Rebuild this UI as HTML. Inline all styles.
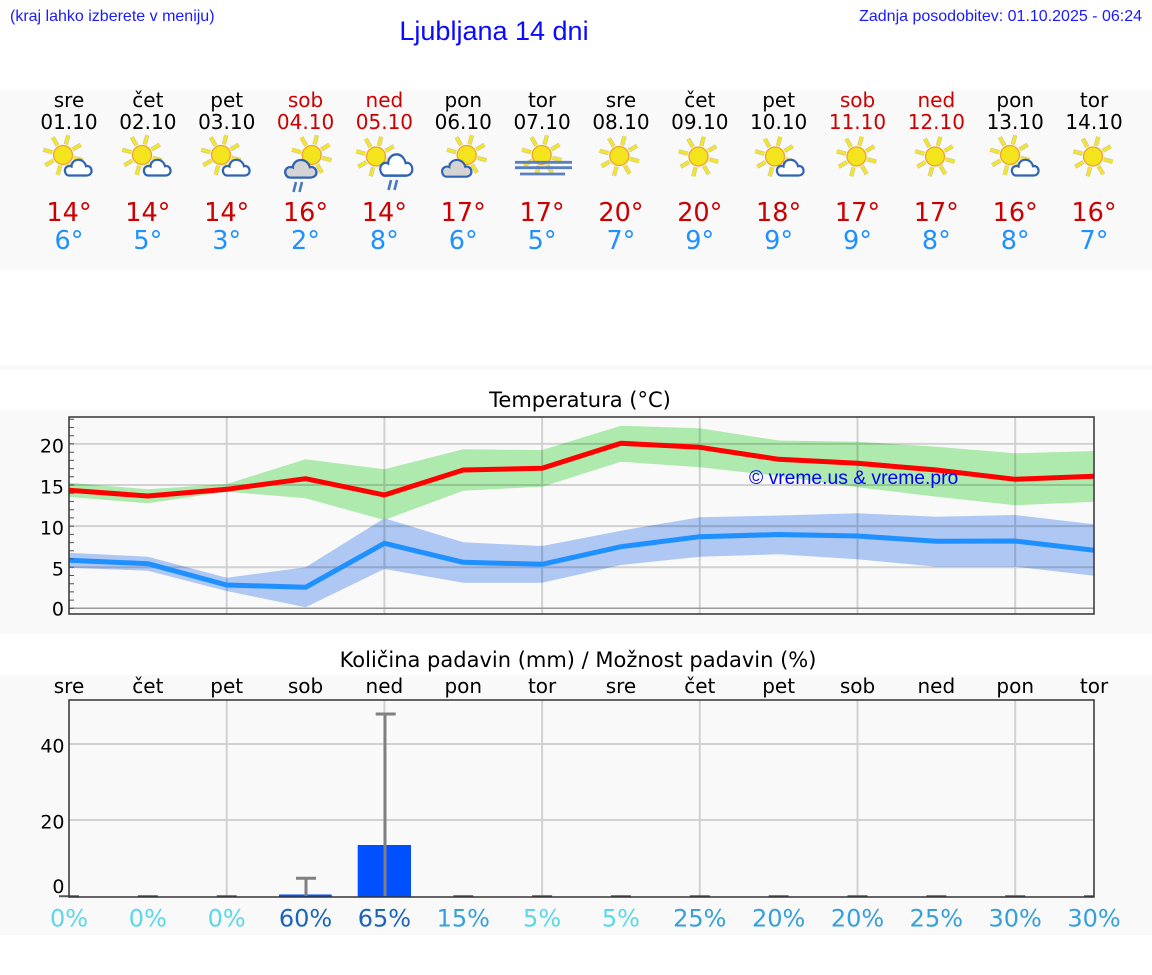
<!DOCTYPE html>
<html><head><meta charset="utf-8">
<style>
html,body{margin:0;padding:0;background:#fff;}
svg{display:block;}
.d{font-family:"DejaVu Sans",sans-serif;}
.l{font-family:"Liberation Sans",Arial,sans-serif;}
</style></head>
<body>
<svg width="1152" height="975" viewBox="0 0 1152 975" xmlns="http://www.w3.org/2000/svg">
<defs>
  <g id="sun">
    <path d="M10.6,2.8L19.8,5.3M5.5,9.5L10.3,17.8M-2.8,10.6L-5.3,19.8M-9.5,5.5L-17.8,10.3M-10.6,-2.8L-19.8,-5.3M-5.5,-9.5L-10.3,-17.8M2.8,-10.6L5.3,-19.8M9.5,-5.5L17.8,-10.3" stroke="#cfc8a8" stroke-width="4.4"/>
    <path d="M10.6,2.8L19.8,5.3M5.5,9.5L10.3,17.8M-2.8,10.6L-5.3,19.8M-9.5,5.5L-17.8,10.3M-10.6,-2.8L-19.8,-5.3M-5.5,-9.5L-10.3,-17.8M2.8,-10.6L5.3,-19.8M9.5,-5.5L17.8,-10.3" stroke="#f2e52a" stroke-width="3"/>
    <circle r="9.5" fill="#f3e41e" stroke="#f0a030" stroke-width="1.3"/>
  </g>
  <path id="cloud" d="M6,17.5 L23,17.5 C27,17.5 29,15 28.5,12 C28,9 25.5,7.5 23,8.2 C22,4 18.5,1.5 15,1.8 C11,2 8.5,5 8.5,8.5 C6.5,7.5 3.5,8 2.3,10.5 C1,13.5 3,17.5 6,17.5 Z"/>
  <g id="rain"><path d="M3,0L0.5,10M9,0L6.5,10" stroke="#4a78c0" stroke-width="2.6"/></g>
  <clipPath id="tc"><rect x="69" y="417" width="1025" height="197"/></clipPath>
</defs>

<!-- header -->
<text class="l" x="10" y="21" font-size="16" fill="#1a1aff">(kraj lahko izberete v meniju)</text>
<text class="l" x="494" y="40" font-size="27" fill="#0a0aff" text-anchor="middle">Ljubljana 14 dni</text>
<text class="l" x="1142" y="21" font-size="16" fill="#1a1aff" text-anchor="end">Zadnja posodobitev: 01.10.2025 - 06:24</text>

<!-- bands -->
<rect x="0" y="90" width="1152" height="180" fill="#f9f9f9"/>
<rect x="0" y="365" width="1152" height="5" fill="#f9f9f9"/>
<rect x="0" y="410" width="1152" height="224" fill="#f9f9f9"/>
<rect x="0" y="675" width="1152" height="260" fill="#f9f9f9"/>

<!-- day names / dates -->
<g class="d" font-size="20" text-anchor="middle">
  <g fill="#000">
    <text x="69" y="107">sre</text><text x="147.85" y="107">čet</text><text x="226.7" y="107">pet</text>
    <text x="463.25" y="107">pon</text><text x="542.1" y="107">tor</text><text x="620.95" y="107">sre</text>
    <text x="699.8" y="107">čet</text><text x="778.65" y="107">pet</text><text x="1015.2" y="107">pon</text><text x="1094.05" y="107">tor</text>
    <text x="69" y="129">01.10</text><text x="147.85" y="129">02.10</text><text x="226.7" y="129">03.10</text>
    <text x="463.25" y="129">06.10</text><text x="542.1" y="129">07.10</text><text x="620.95" y="129">08.10</text>
    <text x="699.8" y="129">09.10</text><text x="778.65" y="129">10.10</text><text x="1015.2" y="129">13.10</text><text x="1094.05" y="129">14.10</text>
  </g>
  <g fill="#cc0000">
    <text x="305.55" y="107">sob</text><text x="384.4" y="107">ned</text><text x="857.5" y="107">sob</text><text x="936.35" y="107">ned</text>
    <text x="305.55" y="129">04.10</text><text x="384.4" y="129">05.10</text><text x="857.5" y="129">11.10</text><text x="936.35" y="129">12.10</text>
  </g>
</g>

<!-- icons -->
<g>
  <use href="#sun" x="63" y="155"/><use href="#cloud" x="63" y="158" fill="#fff" stroke="#2f63b5" stroke-width="2.2"/>
  <use href="#sun" x="142" y="155"/><use href="#cloud" x="142" y="158" fill="#fff" stroke="#2f63b5" stroke-width="2.2"/>
  <use href="#sun" x="221" y="155"/><use href="#cloud" x="221" y="158" fill="#fff" stroke="#2f63b5" stroke-width="2.2"/>
  <!-- day 3 -->
  <use href="#sun" x="311.7" y="155"/>
  <g transform="translate(283,158) scale(1.17,1.12)"><use href="#cloud" fill="#d4d4d4" stroke="#2f63b5" stroke-width="2"/></g>
  <use href="#rain" x="293" y="182"/>
  <!-- day 4 -->
  <use href="#sun" x="376" y="156.5"/>
  <g transform="translate(378,152) scale(1.2,1.35)"><use href="#cloud" fill="#fff" stroke="#2f63b5" stroke-width="1.8"/></g>
  <use href="#rain" x="388" y="180"/>
  <!-- day 5 -->
  <use href="#sun" x="466.7" y="155"/>
  <g transform="translate(440,158) scale(1.1,1.07)"><use href="#cloud" fill="#d4d4d4" stroke="#2f63b5" stroke-width="2"/></g>
  <!-- day 6 fog -->
  <use href="#sun" x="541.7" y="155"/>
  <path d="M515,162.3H572M515,167.7H572M520,174H565" stroke="#5a80c0" stroke-width="2.8"/>
  <use href="#sun" x="619.3" y="156"/>
  <use href="#sun" x="698.5" y="156.5"/>
  <use href="#sun" x="775" y="156.5"/><use href="#cloud" x="775" y="158" fill="#fff" stroke="#2f63b5" stroke-width="2.2"/>
  <use href="#sun" x="856.5" y="156.5"/>
  <use href="#sun" x="935" y="156.5"/>
  <use href="#sun" x="1010" y="155"/><use href="#cloud" x="1010" y="158" fill="#fff" stroke="#2f63b5" stroke-width="2.2"/>
  <use href="#sun" x="1093" y="156.5"/>
</g>

<!-- temps -->
<g class="d" font-size="25.5" text-anchor="middle">
  <g fill="#cc0000">
    <text x="69" y="221">14°</text><text x="147.85" y="221">14°</text><text x="226.7" y="221">14°</text><text x="305.55" y="221">16°</text>
    <text x="384.4" y="221">14°</text><text x="463.25" y="221">17°</text><text x="542.1" y="221">17°</text><text x="620.95" y="221">20°</text>
    <text x="699.8" y="221">20°</text><text x="778.65" y="221">18°</text><text x="857.5" y="221">17°</text><text x="936.35" y="221">17°</text>
    <text x="1015.2" y="221">16°</text><text x="1094.05" y="221">16°</text>
  </g>
  <g fill="#1e90ff">
    <text x="69" y="249">6°</text><text x="147.85" y="249">5°</text><text x="226.7" y="249">3°</text><text x="305.55" y="249">2°</text>
    <text x="384.4" y="249">8°</text><text x="463.25" y="249">6°</text><text x="542.1" y="249">5°</text><text x="620.95" y="249">7°</text>
    <text x="699.8" y="249">9°</text><text x="778.65" y="249">9°</text><text x="857.5" y="249">9°</text><text x="936.35" y="249">8°</text>
    <text x="1015.2" y="249">8°</text><text x="1094.05" y="249">7°</text>
  </g>
</g>

<!-- temperature chart -->
<text class="d" x="580" y="407" font-size="21" text-anchor="middle" fill="#000">Temperatura (°C)</text>
<g clip-path="url(#tc)">
  <polygon fill="#aeeaae" points="69,482.7 147.85,489.3 226.7,484 305.55,459.3 384.4,469.3 463.25,449.3 542.1,450 620.95,425.7 699.8,428.3 778.65,440.5 857.5,441.7 936.35,446.7 1015.2,453.3 1094.05,451 1094.05,501.7 1015.2,505.3 936.35,496.7 857.5,487.3 778.65,476 699.8,467.3 620.95,461.7 542.1,486.7 463.25,490.7 384.4,520 305.55,498.3 226.7,491.7 147.85,503.3 69,497"/>
  <polygon fill="#aec7f3" points="69,552.7 147.85,556.7 226.7,577.7 305.55,567.3 384.4,518.3 463.25,542.3 542.1,546 620.95,530.7 699.8,517.3 778.65,515.5 857.5,513.3 936.35,516.7 1015.2,515 1094.05,524.3 1094.05,575.7 1015.2,566.7 936.35,566.7 857.5,559.3 778.65,554.2 699.8,556.7 620.95,565 542.1,582.7 463.25,582.7 384.4,569 305.55,607.3 226.7,591 147.85,570.7 69,567.7"/>
  <path d="M69,443.9H1094M69,485H1094M69,526.1H1094M69,567.2H1094M226.7,417V614M384.4,417V614M542.1,417V614M699.8,417V614M857.5,417V614M1015.2,417V614" stroke="rgba(0,0,0,0.16)" stroke-width="2"/>
  <path d="M69,608.3H1094" stroke="#9a9a9a" stroke-width="1.5"/>
  <polyline fill="none" stroke="#ff0000" stroke-width="5" stroke-linejoin="round" points="69,490.3 147.85,496 226.7,489.3 305.55,478.7 384.4,495 463.25,470 542.1,468.3 620.95,443.3 699.8,447.3 778.65,459.3 857.5,463.3 936.35,470 1015.2,479.3 1094.05,476.3"/>
  <polyline fill="none" stroke="#1e90ff" stroke-width="5" stroke-linejoin="round" points="69,560.3 147.85,563.7 226.7,585 305.55,587.3 384.4,543.3 463.25,562.3 542.1,564.3 620.95,546.7 699.8,536.7 778.65,534.5 857.5,536 936.35,541.3 1015.2,541 1094.05,550.3"/>
</g>
<text class="l" x="749" y="484" font-size="19.3" fill="#0000ff">© vreme.us &amp; vreme.pro</text>
<path d="M69,608.3h5M69,600.1h5M69,591.9h5M69,583.7h5M69,575.5h5M69,567.2h5M69,559h5M69,550.8h5M69,542.6h5M69,534.4h5M69,526.1h5M69,517.9h5M69,509.7h5M69,501.5h5M69,493.3h5M69,485h5M69,476.8h5M69,468.6h5M69,460.4h5M69,452.2h5M69,443.9h5M69,435.7h5M69,427.5h5M69,419.3h5" stroke="#555" stroke-width="1"/>
<rect x="69" y="417" width="1025" height="197" fill="none" stroke="#333" stroke-width="1.5"/>
<g class="d" font-size="19" text-anchor="end" fill="#000">
  <text x="64" y="452.3">20</text><text x="64" y="493.3">15</text><text x="64" y="534.3">10</text><text x="64" y="575.3">5</text><text x="64" y="615.5">0</text>
</g>

<!-- precipitation chart -->
<text class="d" x="578" y="667" font-size="21" text-anchor="middle" fill="#000">Količina padavin (mm) / Možnost padavin (%)</text>
<g class="d" font-size="20" text-anchor="middle" fill="#000">
  <text x="69" y="693">sre</text><text x="147.85" y="693">čet</text><text x="226.7" y="693">pet</text><text x="305.55" y="693">sob</text>
  <text x="384.4" y="693">ned</text><text x="463.25" y="693">pon</text><text x="542.1" y="693">tor</text><text x="620.95" y="693">sre</text>
  <text x="699.8" y="693">čet</text><text x="778.65" y="693">pet</text><text x="857.5" y="693">sob</text><text x="936.35" y="693">ned</text>
  <text x="1015.2" y="693">pon</text><text x="1094.05" y="693">tor</text>
</g>
<path d="M69,744H1094M69,820H1094M226.7,700V897M384.4,700V897M542.1,700V897M699.8,700V897M857.5,700V897M1015.2,700V897" stroke="rgba(0,0,0,0.16)" stroke-width="2"/>
<rect x="357.7" y="845" width="53.3" height="51.5" fill="#0050ff"/>
<rect x="279" y="894.5" width="52.7" height="2" fill="#0050ff"/>
<path d="M385,896V714M375.7,714H395.7M306,896V878.3M296,878.3H316" stroke="#808080" stroke-width="3"/>
<path d="M59,896.3H79M137.85,896.3H157.85M216.7,896.3H236.7M453.25,896.3H473.25M532.1,896.3H552.1M610.95,896.3H630.95M689.8,896.3H709.8M768.65,896.3H788.65M847.5,896.3H867.5M926.35,896.3H946.35M1005.2,896.3H1025.2M1084.05,896.3H1094" stroke="#555" stroke-width="2"/>
<rect x="69" y="700" width="1025" height="197" fill="none" stroke="#333" stroke-width="1.5"/>
<g class="d" font-size="19" text-anchor="end" fill="#000">
  <text x="64.5" y="752.3">40</text><text x="64.5" y="828.3">20</text><text x="64.5" y="893">0</text>
</g>
<g class="d" font-size="24" text-anchor="middle">
  <g fill="#5ad8ea">
    <text x="69" y="926.5">0%</text><text x="147.85" y="926.5">0%</text><text x="226.7" y="926.5">0%</text>
    <text x="542.1" y="926.5">5%</text><text x="620.95" y="926.5">5%</text>
  </g>
  <g fill="#1a64bd">
    <text x="305.55" y="926.5">60%</text><text x="384.4" y="926.5">65%</text>
  </g>
  <g fill="#36a0dc">
    <text x="463.25" y="926.5">15%</text><text x="699.8" y="926.5">25%</text><text x="778.65" y="926.5">20%</text>
    <text x="857.5" y="926.5">20%</text><text x="936.35" y="926.5">25%</text><text x="1015.2" y="926.5">30%</text><text x="1094.05" y="926.5">30%</text>
  </g>
</g>
</svg>
</body></html>
